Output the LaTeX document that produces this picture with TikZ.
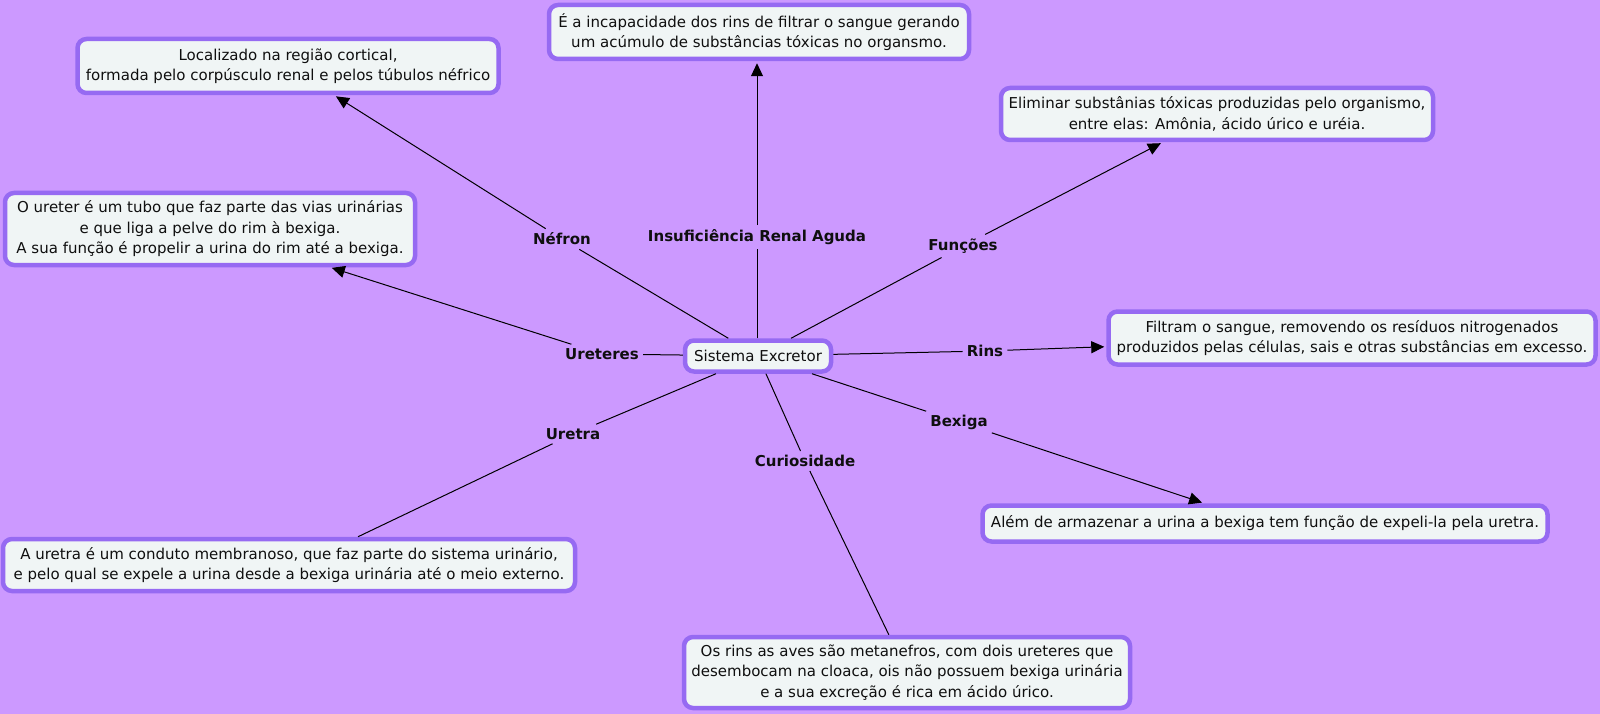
\documentclass[tikz,border=0pt]{standalone}
\usepackage{fontspec}
\setmainfont{DejaVu Sans}
\usetikzlibrary{arrows.meta}
\definecolor{bg}{RGB}{204,153,255}
\definecolor{bd}{RGB}{150,106,242}
\definecolor{bf}{RGB}{240,245,245}
\definecolor{tx}{RGB}{15,15,15}
\begin{document}
\begin{tikzpicture}[x=1pt,y=-1pt,
  box/.style={draw=bd, line width=4.5pt, fill=bf, rounded corners=9pt, inner sep=0pt, align=center, text=tx, font=\fontsize{15}{20.5}\selectfont},
  lbl/.style={font=\bfseries\fontsize{15}{17}\selectfont, inner sep=4pt, text=tx},
  conn/.style={line width=1pt, black},
  arr/.style={conn, -{Triangle[length=13pt,width=12pt]}, shorten >=2pt}]
\fill[bg] (0,0) rectangle (1600,714);
\useasboundingbox (0,0) rectangle (1600,714);
% boxes
\node[box, minimum width=421pt, minimum height=54pt] (nefB) at (288,66) {Localizado na região cortical,\\formada pelo corpúsculo renal e pelos túbulos néfrico};
\node[box, minimum width=420pt, minimum height=54pt] (iraB) at (759,32) {É a incapacidade dos rins de filtrar o sangue gerando\\um acúmulo de substâncias tóxicas no organsmo.};
\node[box, minimum width=432pt, minimum height=52pt] (funB) at (1217,114) {Eliminar substânias tóxicas produzidas pelo organismo,\\entre elas: Amônia, ácido úrico e uréia.};
\node[box, minimum width=410pt, minimum height=72pt] (urtB) at (210,229) {O ureter é um tubo que faz parte das vias urinárias\\e que liga a pelve do rim à bexiga.\\ A sua função é propelir a urina do rim até a bexiga.};
\node[box, minimum width=146pt, minimum height=31pt] (sis) at (758,356) {Sistema Excretor};
\node[box, minimum width=487pt, minimum height=53pt] (rinB) at (1352,338) {Filtram o sangue, removendo os resíduos nitrogenados\\produzidos pelas células, sais e otras substâncias em excesso.};
\node[box, minimum width=572pt, minimum height=52pt] (uraB) at (289,565) {A uretra é um conduto membranoso, que faz parte do sistema urinário,\\e pelo qual se expele a urina desde a bexiga urinária até o meio externo.};
\node[box, minimum width=565pt, minimum height=36pt] (bexB) at (1265,523.5) {Além de armazenar a urina a bexiga tem função de expeli-la pela uretra.};
\node[box, minimum width=446pt, minimum height=71pt] (curB) at (907,672.5) {Os rins as aves são metanefros, com dois ureteres que\\desembocam na cloaca, ois não possuem bexiga urinária\\e a sua excreção é rica em ácido úrico.};
% labels
\node[lbl] (nefL) at (562,239) {Néfron};
\node[lbl] (iraL) at (757,237) {Insuficiência Renal Aguda};
\node[lbl] (funL) at (963,246) {Funções};
\node[lbl] (urtL) at (602,354) {Ureteres};
\node[lbl] (rinL) at (985,351) {Rins};
\node[lbl] (uraL) at (573,434) {Uretra};
\node[lbl] (bexL) at (959,422) {Bexiga};
\node[lbl] (curL) at (805,461) {Curiosidade};
% connectors
\draw[conn] (sis) -- (nefL);
\draw[arr] (nefL) -- (nefB);
\draw[conn] (sis.north -| iraL) -- (iraL);
\draw[arr] (iraL) -- (iraL |- iraB.south);
\draw[conn] (sis) -- (funL);
\draw[arr] (funL) -- (funB);
\draw[conn] (sis) -- (urtL);
\draw[arr] (urtL) -- (urtB);
\draw[conn] (sis) -- (rinL);
\draw[arr] (rinL) -- (rinB);
\draw[conn] (sis) -- (uraL);
\draw[conn] (uraL) -- ([xshift=69pt]uraB.north);
\draw[conn] (sis) -- (bexL);
\draw[arr] (bexL) -- (bexB);
\draw[conn] (sis) -- (curL);
\draw[conn] (curL) -- (curB);
\end{tikzpicture}
\end{document}
